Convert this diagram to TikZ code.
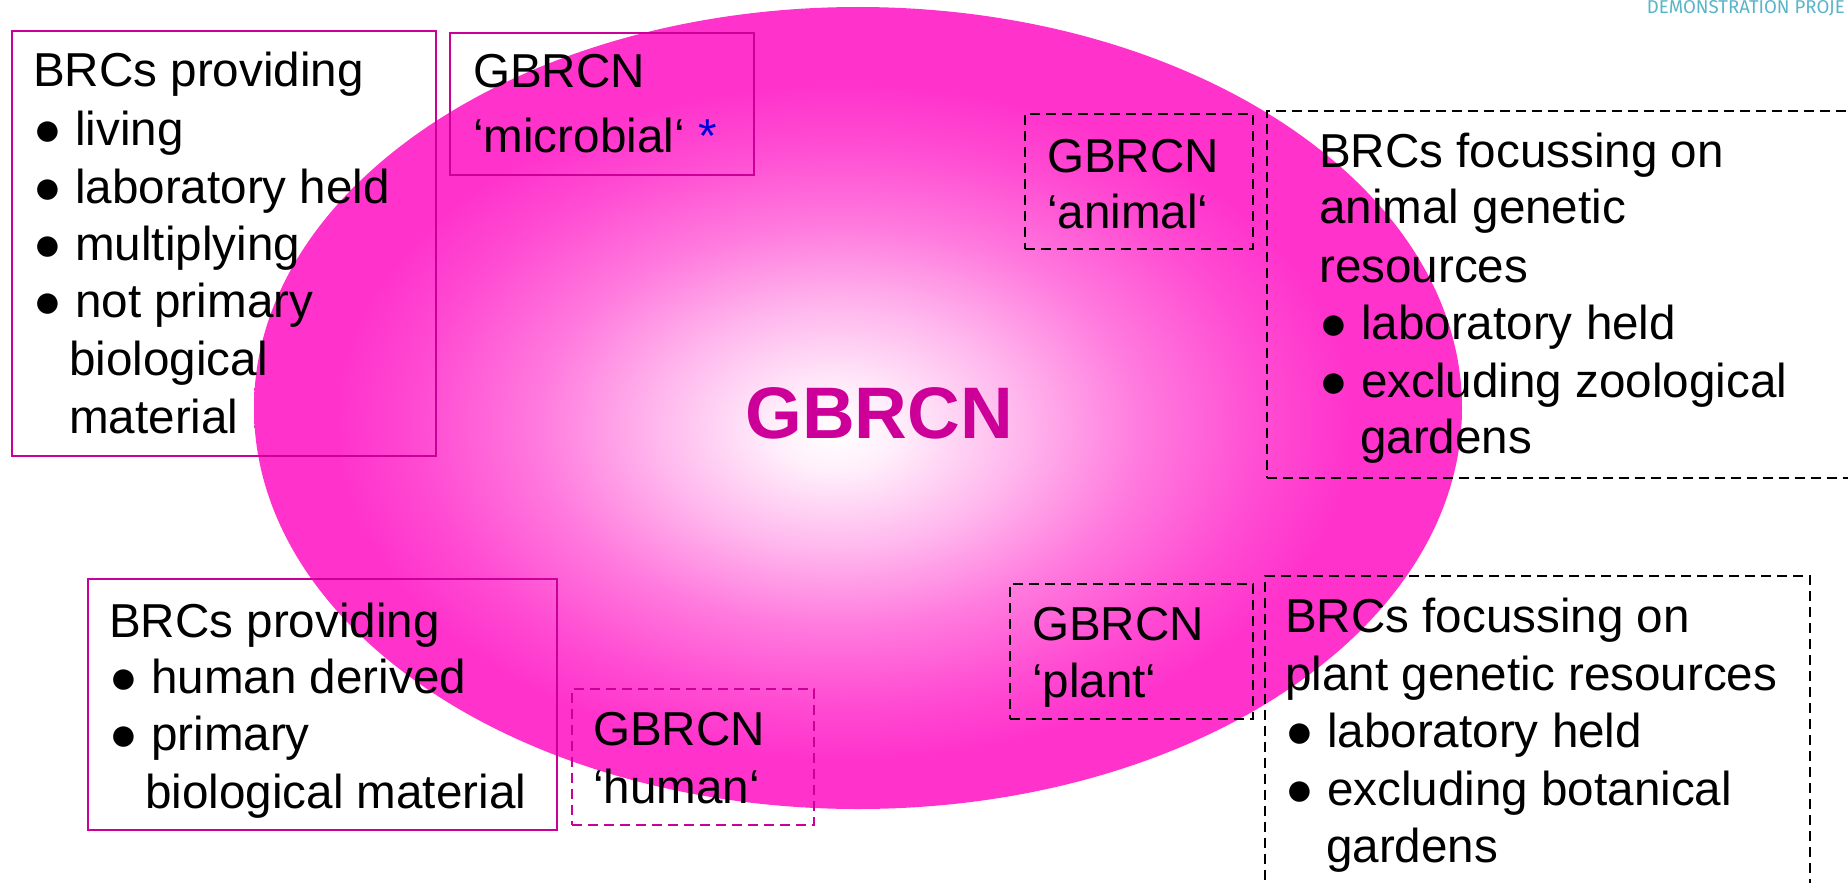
\documentclass[tikz,border=0pt]{standalone}
\usepackage{fontspec}
\setmainfont{Liberation Sans}
\newfontfamily\demofont{Fira Sans}
\usetikzlibrary{shapes.geometric}
\definecolor{mag}{RGB}{255,51,204}
\definecolor{bordermag}{RGB}{204,0,153}
\definecolor{demoteal}{RGB}{90,180,200}
\definecolor{starblue}{RGB}{0,0,220}
\pgfdeclareradialshading{ellshade}{\pgfpoint{-1bp}{-1.5bp}}{color(0bp)=(white); color(2.5bp)=(mag!8); color(7.5bp)=(mag!35); color(12.5bp)=(mag!65); color(17.5bp)=(mag!88); color(21bp)=(mag); color(50bp)=(mag)}
\tikzset{
  txt/.style={anchor=base west, inner sep=0pt, font=\fontsize{47.6pt}{56pt}\selectfont},
  solidbox/.style={draw=bordermag, line width=2pt, anchor=north west, inner sep=0pt},
  dashbox/.style={draw=black, line width=1.8pt, dash pattern=on 10pt off 6pt, anchor=north west, inner sep=0pt},
  magdashbox/.style={dashbox, draw=bordermag},
}
\begin{document}
\begin{tikzpicture}[x=1pt,y=-1pt]
\useasboundingbox (0,0) rectangle (1848,883);
% central ellipse
\node[ellipse, minimum width=1208pt, minimum height=802pt, inner sep=0pt, shade, shading=ellshade] (ell) at (858,408) {};
\node[anchor=base west, inner sep=0pt, text=bordermag, font=\fontsize{73pt}{80pt}\selectfont\bfseries] (center) at (745,438) {GBRCN};
% header
\node[anchor=base east, inner sep=0pt, text=demoteal, font=\demofont\fontsize{18.6pt}{20pt}\selectfont] (demo) at (1845,14) {DEMONSTRATION PROJE};
% box 1
\node[solidbox, minimum width=424pt, minimum height=425pt] (b1) at (11,30) {};
\node[txt] (b1a) at (33,87) {BRCs providing};
\node[txt] (b1b) at (33,145) {● living};
\node[txt] (b1c) at (33,203) {● laboratory held};
\node[txt] (b1d) at (33,260) {● multiplying};
\node[txt] (b1e) at (33,317) {● not primary};
\node[txt] (b1f) at (69,375) {biological};
\node[txt] (b1g) at (69,433) {material};
% box 2 microbial
\node[solidbox, minimum width=304pt, minimum height=142pt] (b2) at (449,32) {};
\node[txt] (b2a) at (473,88) {GBRCN};
\node[txt] (b2b) at (473,152) {‘microbial‘ \textcolor{starblue}{*}};
% box 3 animal
\node[dashbox, minimum width=228pt, minimum height=135pt] (b3) at (1024,113) {};
\node[txt] (b3a) at (1047,172) {GBRCN};
\node[txt] (b3b) at (1047,228) {‘animal‘};
% box 4 animal BRCs
\node[dashbox, minimum width=650pt, minimum height=367pt] (b4) at (1266,110) {};
\node[txt] (b4a) at (1319,167) {BRCs focussing on};
\node[txt] (b4b) at (1319,223) {animal genetic};
\node[txt] (b4c) at (1319,282) {resources};
\node[txt] (b4d) at (1319,339) {● laboratory held};
\node[txt] (b4e) at (1319,397) {● excluding zoological};
\node[txt] (b4f) at (1360,453) {gardens};
% box 5 human BRCs
\node[solidbox, minimum width=469pt, minimum height=251pt] (b5) at (87,578) {};
\node[txt] (b5a) at (109,637) {BRCs providing};
\node[txt] (b5b) at (109,693) {● human derived};
\node[txt] (b5c) at (109,750) {● primary};
\node[txt] (b5d) at (145,808) {biological material};
% box 6 human
\node[magdashbox, minimum width=242pt, minimum height=136pt] (b6) at (571,688) {};
\node[txt] (b6a) at (593,745) {GBRCN};
\node[txt] (b6b) at (593,803) {‘human‘};
% box 7 plant
\node[dashbox, minimum width=243pt, minimum height=135pt] (b7) at (1009,583) {};
\node[txt] (b7a) at (1032,640) {GBRCN};
\node[txt] (b7b) at (1032,697) {‘plant‘};
% box 8 plant BRCs
\node[dashbox, minimum width=545pt, minimum height=360pt] (b8) at (1264,575) {};
\node[txt] (b8a) at (1285,632) {BRCs focussing on};
\node[txt] (b8b) at (1285,690) {plant genetic resources};
\node[txt] (b8c) at (1285,747) {● laboratory held};
\node[txt] (b8d) at (1285,805) {● excluding botanical};
\node[txt] (b8e) at (1326,862) {gardens};
\end{tikzpicture}
\end{document}
